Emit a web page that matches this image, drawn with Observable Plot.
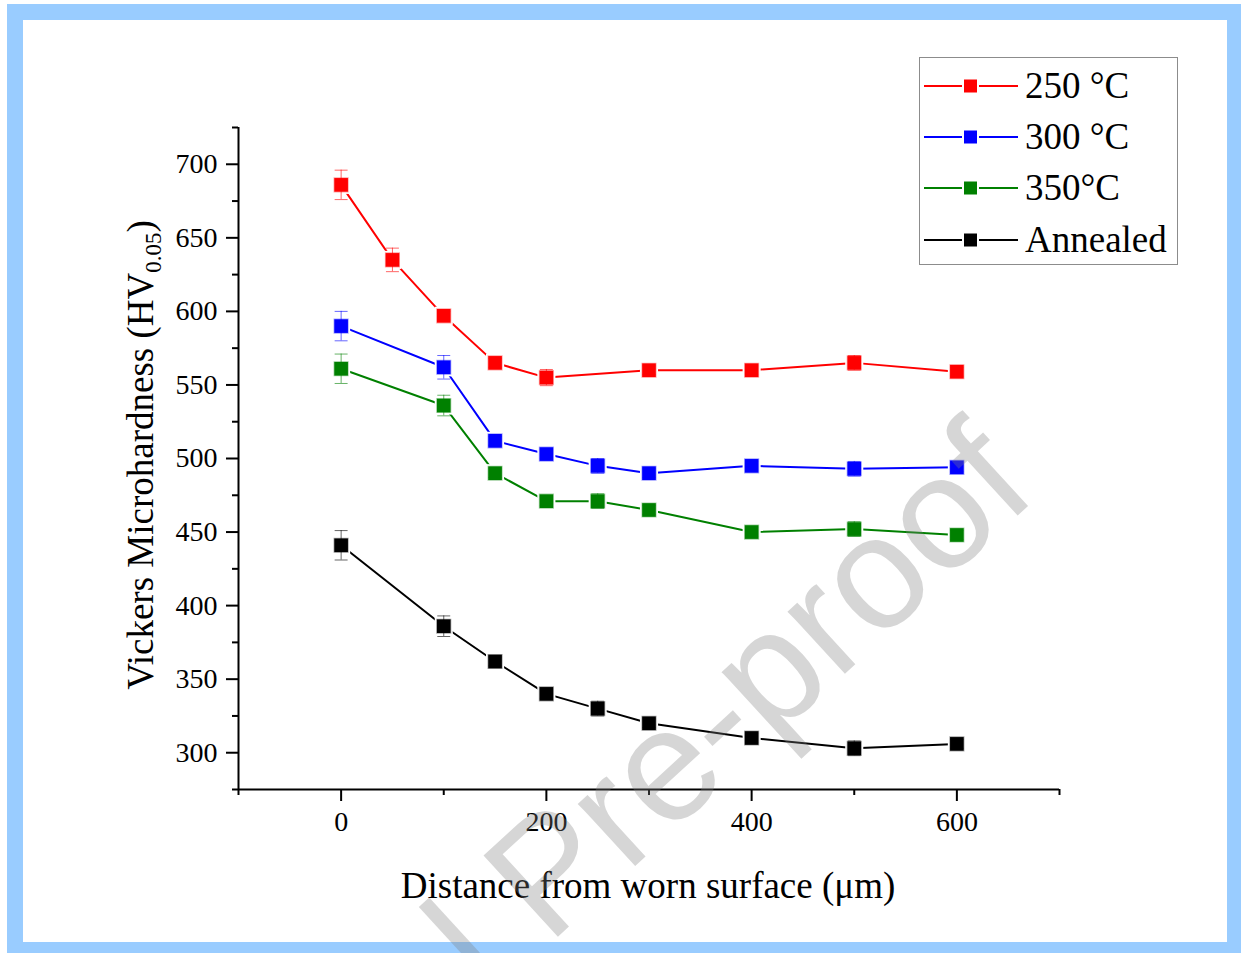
<!DOCTYPE html>
<html>
<head>
<meta charset="utf-8">
<script src="https://cdn.jsdelivr.net/npm/d3@7"></script>
<script src="https://cdn.jsdelivr.net/npm/@observablehq/plot@0.6"></script>
<style>
  html, body { margin: 0; padding: 0; background: #ffffff; }
  #wrap { position: relative; width: 1241px; height: 953px; overflow: hidden; font-family: "Liberation Serif", "DejaVu Serif", serif; }
  #frameOuter { position: absolute; left: 7px; top: 4px; width: 1234px; height: 949px; background: #99ccff; }
  #frameInner { position: absolute; left: 23px; top: 20px; width: 1204px; height: 922px; background: #ffffff; }
  #chart { position: absolute; left: 0; top: 0; }
  #legend { position: absolute; left: 919px; top: 57px; width: 257px; height: 206px; border: 1px solid #8c8c8c; background: #ffffff; }
  .lrow { position: absolute; left: 0; height: 40px; width: 257px; }
  .lrow svg { position: absolute; left: 4px; top: 10px; }
  .lrow span { position: absolute; left: 105px; top: 0; font-size: 37px; line-height: 40px; color: #000; white-space: nowrap; }
  #wm { position: absolute; left: 0; top: 0; pointer-events: none; }
</style>
</head>
<body>
<div id="wrap">
  <div id="frameOuter"></div>
  <div id="frameInner"></div>
  <div id="chart"></div>
  <div id="legend"></div>
  <svg id="wm" width="1241" height="953"></svg>
</div>
<script>
// ---- Data ----
const seriesNames = ["250 °C", "300 °C", "350°C", "Annealed"];
const seriesColors = ["#ff0000", "#0000ff", "#008000", "#000000"];

const dist250 = [0, 50, 100, 150, 200, 300, 400, 500, 600];
const hv250   = [686, 635, 597, 565, 555, 560, 560, 565, 559];
const err250  = [10, 8, 3, 3, 5.5, 3, 3, 5, 3];

const dist300 = [0, 100, 150, 200, 250, 300, 400, 500, 600];
const hv300   = [590, 562, 512, 503, 495, 490, 495, 493, 494];
const err300  = [10, 8, 3, 3, 5, 3, 3, 5, 3];

const dist350 = [0, 100, 150, 200, 250, 300, 400, 500, 600];
const hv350   = [561, 536, 490, 471, 471, 465, 450, 452, 448];
const err350  = [10, 7, 3, 3, 5, 3, 3, 5, 3];

const distAnn = [0, 100, 150, 200, 250, 300, 400, 500, 600];
const hvAnn   = [441, 386, 362, 340, 330, 320, 310, 303, 306];
const errAnn  = [10, 7, 3, 3, 5, 3, 3, 5, 3];

const xMajorTicks = [0, 200, 400, 600];
const xMinorTicks = [-100, 100, 300, 500, 700];
const yMajorTicks = [300, 350, 400, 450, 500, 550, 600, 650, 700];
const yMinorTicks = [275, 325, 375, 425, 475, 525, 575, 625, 675, 725];

const xTitle = "Distance from worn surface (μm)";
const yTitleMain = "Vickers Microhardness (HV";
const yTitleSub = "0.05";
const yTitleEnd = ")";
const watermark = "Journal Pre-proof";

// ---- Build table ----
const dists = [dist250, dist300, dist350, distAnn];
const hvs = [hv250, hv300, hv350, hvAnn];
const errs = [err250, err300, err350, errAnn];
const seriesData = seriesNames.map((name, i) =>
  dists[i].map((d, j) => ({ series: name, x: d, y: hvs[i][j], err: errs[i][j] }))
);

// cap symbol: horizontal line
const capSymbol = {
  draw(context, size) {
    const w = Math.sqrt(size) / 2;
    context.moveTo(-w, 0);
    context.lineTo(w, 0);
  }
};

const marks = [];
seriesData.forEach((rows, i) => {
  const c = seriesColors[i];
  marks.push(Plot.line(rows, { x: "x", y: "y", stroke: c, strokeWidth: 2 }));
});
seriesData.forEach((rows, i) => {
  marks.push(Plot.dot(rows, { x: "x", y: "y", symbol: "square", r: 10.2, fill: "#ffffff", stroke: "none" }));
});
seriesData.forEach((rows, i) => {
  const c = seriesColors[i];
  marks.push(Plot.ruleX(rows, { x: "x", y1: d => d.y - d.err, y2: d => d.y + d.err, stroke: c, strokeOpacity: 0.6, strokeWidth: 1 }));
  marks.push(Plot.dot(rows, { x: "x", y: d => d.y + d.err, symbol: capSymbol, r: 7.3, fill: "none", stroke: c, strokeOpacity: 0.6, strokeWidth: 1 }));
  marks.push(Plot.dot(rows, { x: "x", y: d => d.y - d.err, symbol: capSymbol, r: 7.3, fill: "none", stroke: c, strokeOpacity: 0.6, strokeWidth: 1 }));
});
seriesData.forEach((rows, i) => {
  const c = seriesColors[i];
  marks.push(Plot.dot(rows, { x: "x", y: "y", symbol: "square", r: 7.7, fill: c, stroke: c, strokeOpacity: 0.35, strokeWidth: 1.5 }));
});

const chart = Plot.plot({
  width: 1241,
  height: 953,
  marginLeft: 238,
  marginRight: 182,
  marginTop: 127,
  marginBottom: 164,
  x: { domain: [-100, 700] },
  y: { domain: [275, 725] },
  style: { background: "transparent", fontFamily: "'Liberation Serif', 'DejaVu Serif', serif", color: "#000", overflow: "visible" },
  marks: [
    Plot.axisY(yMinorTicks, { tickSize: 6, text: null, strokeWidth: 2, label: null }),
    Plot.axisY(yMajorTicks, { tickSize: 12, tickPadding: 9, strokeWidth: 2, fontSize: 28, label: null }),
    Plot.axisX(xMinorTicks, { tickSize: 6, text: null, strokeWidth: 2, label: null }),
    Plot.axisX(xMajorTicks, { tickSize: 12, tickPadding: 10, strokeWidth: 2, fontSize: 28, label: null }),
    Plot.ruleX([-100], { strokeWidth: 2 }),
    Plot.ruleY([275], { strokeWidth: 2 }),
    ...marks
  ]
});
document.getElementById("chart").appendChild(chart);

// ---- Axis titles ----
const svg = d3.select(chart);
svg.append("text")
  .attr("x", 648).attr("y", 898)
  .attr("text-anchor", "middle")
  .attr("font-size", 37)
  .attr("fill", "#000")
  .text(xTitle);

const yt = svg.append("text")
  .attr("transform", "translate(153,455) rotate(-90)")
  .attr("text-anchor", "middle")
  .attr("font-size", 37)
  .attr("fill", "#000");
yt.append("tspan").text(yTitleMain);
yt.append("tspan").attr("font-size", 23).attr("dy", 8).text(yTitleSub);
yt.append("tspan").attr("dy", -8).text(yTitleEnd);

// ---- Legend ----
const legend = document.getElementById("legend");
const rowCenters = [28, 79, 130, 182];
seriesNames.forEach((name, i) => {
  const row = document.createElement("div");
  row.className = "lrow";
  row.style.top = (rowCenters[i] - 20) + "px";
  const c = seriesColors[i];
  row.innerHTML =
    `<svg width="96" height="20"><line x1="0" y1="10" x2="94" y2="10" stroke="${c}" stroke-width="2"/>` +
    `<rect x="39" y="2.5" width="15" height="15" fill="${c}" stroke="#ffffff" stroke-width="2"/></svg>` +
    `<span>${name}</span>`;
  legend.appendChild(row);
});

// ---- Watermark ----
d3.select("#wm").append("text")
  .attr("transform", "translate(1040,495) rotate(-42.5)")
  .attr("text-anchor", "end")
  .attr("font-family", "'Liberation Sans', Arial, sans-serif")
  .attr("font-size", 160)
  .attr("fill", "#808080")
  .attr("fill-opacity", 0.32)
  .text(watermark);
</script>
</body>
</html>
